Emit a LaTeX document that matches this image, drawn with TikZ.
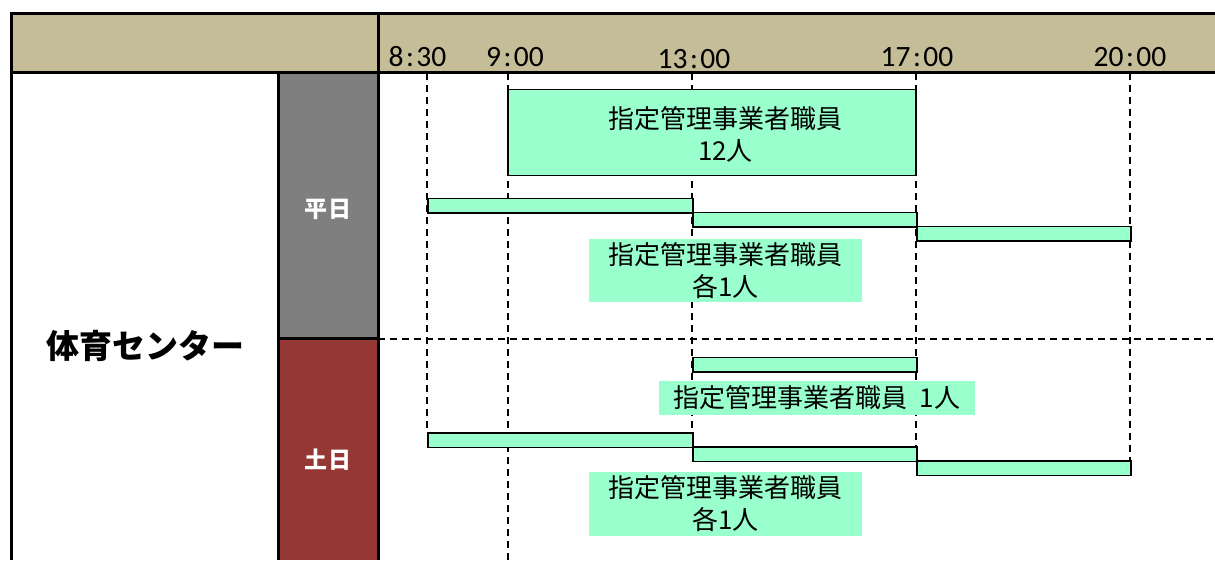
\documentclass[tikz,border=0pt]{standalone}
\usepackage{fontspec}
\setmainfont{Noto Sans CJK JP}
\newfontfamily\timefont{Carlito}
\definecolor{tan}{HTML}{C4BD97}
\definecolor{wkgray}{HTML}{7F7F7F}
\definecolor{wered}{HTML}{953735}
\definecolor{mint}{HTML}{99FFCC}
\tikzset{
  grid/.style={line width=1.2pt, dash pattern=on 7pt off 5pt},
  frame/.style={line width=3pt, black},
  bar/.style={draw=black, fill=mint, line width=1.6pt, anchor=north west, inner sep=0pt, minimum height=14.5pt},
  staffbox/.style={draw=black, fill=mint, line width=1.4pt, inner sep=0pt},
  jtext/.style={align=center, inner sep=0pt, font=\fontsize{26}{32}\selectfont},
  lbl/.style={jtext, fill=mint},
  timelbl/.style={anchor=base, inner sep=0pt, font=\timefont\fontsize{29.5}{29.5}\selectfont},
  day/.style={text=white, inner sep=0pt, font=\bfseries\fontsize{23}{23}\selectfont},
}
\newcommand{\clk}[2]{#1\hspace{2.5pt}:\hspace{2.5pt}#2}
\begin{document}
\begin{tikzpicture}[x=1pt,y=-1pt]
\useasboundingbox (0,0) rectangle (1215,560);
% fills
\fill[tan] (11,13) rectangle (1215,72);
\fill[wkgray] (278,72) rectangle (378,338);
\fill[wered] (278,338) rectangle (378,560);
% grid lines
\draw[grid] (427,73) -- (427,432);
\draw[grid] (508,73) -- (508,560);
\draw[grid] (692,73) -- (692,446);
\draw[grid] (916,73) -- (916,460);
\draw[grid] (1130,73) -- (1130,460);
\draw[grid] (378,339) -- (1215,339);
% frame
\draw[frame] (11,13) -- (1215,13);
\draw[frame] (11,72) -- (1215,72);
\draw[frame] (11,11.5) -- (11,560);
\draw[frame] (378,11.5) -- (378,560);
\draw[frame] (278,72) -- (278,560);
\draw[frame] (278,338) -- (378,338);
% times
\node[timelbl] (t830) at (417.5,66.7) {\clk{8}{30}};
\node[timelbl] (t900) at (515,66.7) {\clk{9}{00}};
\node[timelbl] (t1300) at (694,68.8) {\clk{13}{00}};
\node[timelbl] (t1700) at (917,66.7) {\clk{17}{00}};
\node[timelbl] (t2000) at (1130,66.7) {\clk{20}{00}};
% left labels
\node[inner sep=0pt, font=\bfseries\fontsize{33}{33}\selectfont] (fac) at (145,346) {体育センター};
\node[day] (wd) at (328,209) {平\hspace{2pt}日};
\node[day] (we) at (328,460) {土\hspace{2pt}日};
% weekday
\node[staffbox, minimum width=408pt, minimum height=86pt] (box12) at (712,132.5) {};
\node[jtext] (box12t) at (725.5,134) {指定管理事業者職員\\12人};
\node[bar, minimum width=265pt] (wb1) at (427,197.5) {};
\node[bar, minimum width=224pt] (wb2) at (692,211.5) {};
\node[bar, minimum width=214pt] (wb3) at (916,225.5) {};
\node[lbl, minimum width=273pt, minimum height=63pt] (wl) at (725.5,270.5) {指定管理事業者職員\\各1人};
% weekend
\node[bar, minimum width=224pt] (eb0) at (692,356.5) {};
\node[lbl, minimum width=316pt, minimum height=34pt] (el0) at (817,398) {指定管理事業者職員\hspace{12pt}1人};
\node[bar, minimum width=265pt] (eb1) at (427,432) {};
\node[bar, minimum width=224pt] (eb2) at (692,446) {};
\node[bar, minimum width=214pt] (eb3) at (916,460) {};
\node[lbl, minimum width=273pt, minimum height=64pt] (el) at (725.5,504) {指定管理事業者職員\\各1人};
\end{tikzpicture}
\end{document}
